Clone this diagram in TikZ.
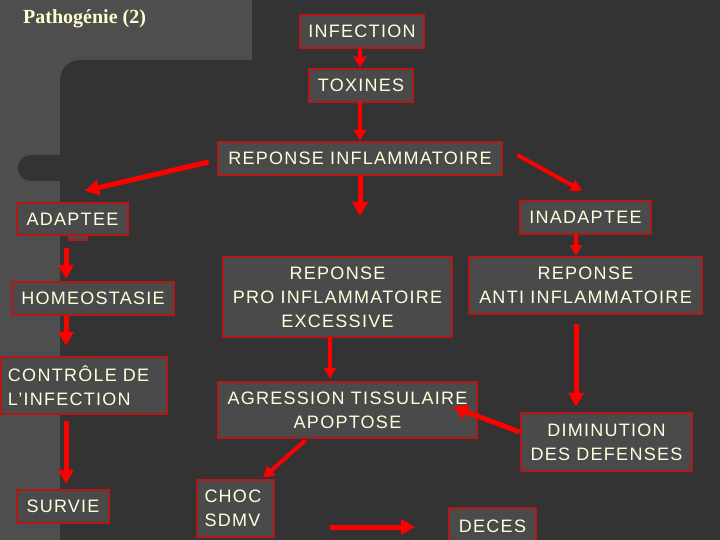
\documentclass[tikz,border=0pt]{standalone}
\usepackage{fontspec}
\setmainfont{Liberation Sans}
\newfontfamily\boxfont[LetterSpace=7]{Liberation Sans}
\newfontfamily\titlefont{Liberation Serif}
\usetikzlibrary{arrows.meta}
\definecolor{lightbg}{RGB}{78,78,78}
\definecolor{darkbg}{RGB}{51,51,51}
\definecolor{boxfill}{RGB}{74,74,74}
\definecolor{boxline}{RGB}{178,24,24}
\definecolor{txt}{RGB}{255,255,222}
\definecolor{titlecol}{RGB}{255,255,204}
\definecolor{arrred}{RGB}{255,0,0}
\begin{document}
\begin{tikzpicture}[x=1pt,y=-1pt,
  box/.style={draw=boxline, line width=2.5pt, fill=boxfill, text=txt,
    font=\boxfont\fontsize{18}{24}\selectfont, inner sep=0pt, align=center},
  arr/.style={draw=arrred, line width=5pt, -{Triangle[width=15pt,length=14pt]}},
  arrs/.style={draw=arrred, line width=4pt, -{Triangle[width=12pt,length=11pt]}}]
\useasboundingbox (0,0) rectangle (720,540);
\clip (0,0) rectangle (720,540);
% backgrounds
\fill[lightbg] (0,0) rectangle (720,540);
\fill[darkbg] (252,-10) rectangle (730,550);
\fill[darkbg, rounded corners=20pt] (60,60) rectangle (760,580);
\fill[darkbg, rounded corners=13pt] (18,155) rectangle (90,181);
% title
\node[anchor=base west, text=titlecol, font=\titlefont\bfseries\fontsize{20}{22}\selectfont, inner sep=0pt] (title) at (23,24) {Pathogénie (2)};
% small tab under ADAPTEE
\draw[boxline, line width=1.5pt, fill=boxfill] (69,233) rectangle (87,240);
% boxes
\node[box, minimum width=124pt, minimum height=33pt] (infection) at (362,31.5) {INFECTION};
\node[box, minimum width=104pt, minimum height=33pt] (toxines) at (361,85.5) {TOXINES};
\node[box, minimum width=284pt, minimum height=33pt] (rinf) at (360,158.5) {REPONSE INFLAMMATOIRE};
\node[box, minimum width=111pt, minimum height=32pt] (adaptee) at (72.5,219) {ADAPTEE};
\node[box, minimum width=162pt, minimum height=33pt] (homeo) at (93,298.5) {HOMEOSTASIE};
\node[box, minimum width=166pt, minimum height=57pt, text width=152pt, align=left] (controle) at (84,385.5) {CONTRÔLE DE\\L’INFECTION};
\node[box, minimum width=92pt, minimum height=33pt] (survie) at (63,506.5) {SURVIE};
\node[box, minimum width=229pt, minimum height=80pt] (pro) at (337.5,297) {REPONSE\\PRO INFLAMMATOIRE\\EXCESSIVE};
\node[box, minimum width=259pt, minimum height=56pt] (agression) at (347.5,410) {AGRESSION TISSULAIRE\\APOPTOSE};
\node[box, minimum width=77pt, minimum height=57pt, text width=62pt, align=left] (choc) at (235.5,508.5) {CHOC\\SDMV};
\node[box, minimum width=87pt, minimum height=36pt] (deces) at (492.5,526) {DECES};
\node[box, minimum width=131pt, minimum height=33pt] (inadaptee) at (585.5,217.5) {INADAPTEE};
\node[box, minimum width=233pt, minimum height=57pt] (anti) at (585.5,285.5) {REPONSE\\ANTI INFLAMMATOIRE};
\node[box, minimum width=171pt, minimum height=58pt] (dimin) at (606.5,442) {DIMINUTION\\DES DEFENSES};
% free-end coordinates
\coordinate (rdown) at (360,216);
\coordinate (la) at (330,527);
\coordinate (lb) at (415,527);
% arrows
\draw[arrs] ([xshift=-2pt]infection.south) -- ([xshift=-2pt]infection.south |- toxines.north);
\draw[arrs] ([xshift=-1pt]toxines.south) -- ([xshift=-1pt]toxines.south |- rinf.north);
\draw[arr] ([xshift=-8pt,yshift=-3.5pt]rinf.west) -- ([xshift=12.5pt,yshift=11pt]adaptee.north);
\draw[arrs] ([xshift=14pt,yshift=3.5pt]rinf.east) -- ([xshift=-3.5pt,yshift=9pt]inadaptee.north);
\draw[arr] (rinf.south) -- (rdown);
\draw[arr, shorten <=12pt, shorten >=2pt] ([xshift=-6.5pt]adaptee.south) -- ([xshift=-6.5pt]adaptee.south |- homeo.north);
\draw[arr, shorten >=10pt] ([xshift=-27pt]homeo.south) -- ([xshift=-27pt]homeo.south |- controle.north);
\draw[arr, shorten <=6pt, shorten >=5pt] ([xshift=-18pt]controle.south) -- ([xshift=-18pt]controle.south |- survie.north);
\draw[arrs, shorten >=2pt] ([xshift=-7.5pt]pro.south) -- ([xshift=-7.5pt]pro.south |- agression.north);
\draw[arrs] ([xshift=-42pt,yshift=-1pt]agression.south) -- ([xshift=27.5pt,yshift=1pt]choc.north);
\draw[arr] ([yshift=10pt]dimin.west) -- ([xshift=-25pt,yshift=3pt]agression.east);
\draw[arrs] ([xshift=-9.5pt]inadaptee.south) -- ([xshift=-9.5pt]inadaptee.south |- anti.north);
\draw[arr, shorten <=9pt, shorten >=5pt] ([xshift=-9.5pt]anti.south) -- ([xshift=-9.5pt]anti.south |- dimin.north);
\draw[arr] (la) -- (lb);
\end{tikzpicture}
\end{document}
